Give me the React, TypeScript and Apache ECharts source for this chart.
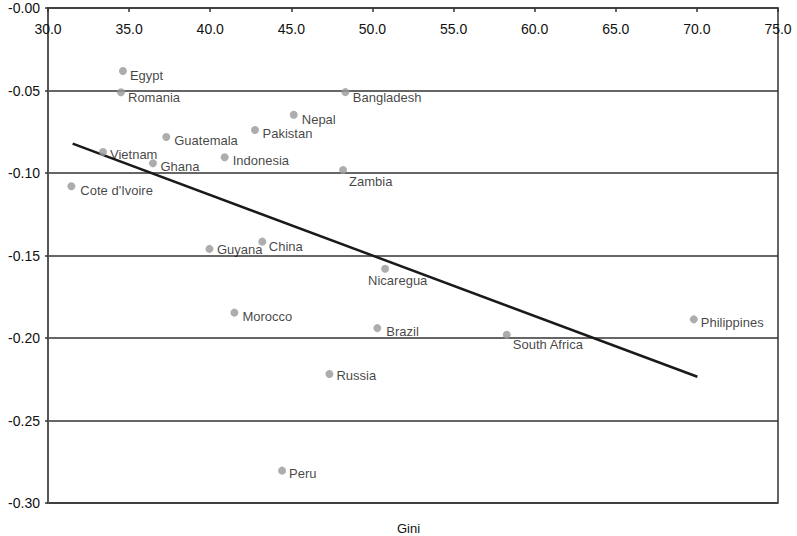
import React, { useEffect, useRef } from "react";
import * as echarts from "echarts";

const countries = [
  "Egypt", "Romania", "Bangladesh", "Nepal", "Pakistan", "Guatemala", "Vietnam",
  "Ghana", "Indonesia", "Zambia", "Cote d'Ivoire", "Guyana", "China", "Nicaregua",
  "Morocco", "Brazil", "Russia", "South Africa", "Philippines", "Peru",
];
const gini = [
  34.62, 34.5, 48.33, 45.15, 42.76, 37.29, 33.39,
  36.47, 40.89, 48.19, 31.44, 39.95, 43.21, 50.78,
  41.49, 50.3, 47.35, 58.28, 69.81, 44.43,
];
const effect = [
  -0.0382, -0.0511, -0.051, -0.0647, -0.0739, -0.0782, -0.0873,
  -0.0941, -0.0905, -0.0982, -0.108, -0.146, -0.1416, -0.158,
  -0.1846, -0.194, -0.2218, -0.198, -0.1887, -0.2804,
];
const trendX = [31.52, 70.03];
const trendY = [-0.0822, -0.2235];
const xAxisTitle = "Gini";

// label offsets (style only): [dx, dy] from point centre to text start / middle
const labelOffsets: Record<string, [number, number]> = {
  Egypt: [7, 4],
  Romania: [7, 5.5],
  Bangladesh: [7.5, 5],
  Nepal: [8, 4.5],
  Pakistan: [7.5, 4],
  Guatemala: [8, 3],
  Vietnam: [7, 2],
  Ghana: [7.5, 3.5],
  Indonesia: [8, 3],
  Zambia: [6, 11],
  "Cote d'Ivoire": [9, 4],
  Guyana: [7.5, 1],
  China: [6.5, 4.5],
  Nicaregua: [-17, 12],
  Morocco: [8, 3.5],
  Brazil: [9, 3],
  Russia: [7, 1.5],
  "South Africa": [6, 10],
  Philippines: [7, 3.5],
  Peru: [7, 3],
};

const FONT = "'Liberation Sans', Arial, sans-serif";

export default function App() {
  const ref = useRef<HTMLDivElement>(null);
  useEffect(() => {
    if (!ref.current) return;
    const chart = echarts.init(ref.current, undefined, { renderer: "svg" });
    const scatterData = countries.map((name, i) => ({
      name,
      value: [gini[i], effect[i]],
      label: {
        show: true,
        position: "inside",
        align: "left",
        verticalAlign: "middle",
        offset: labelOffsets[name] || [7, 3],
        formatter: name,
        color: "#111",
        fontSize: 13,
        fontFamily: FONT,
      },
    }));
    chart.setOption({
      animation: false,
      backgroundColor: "#fff",
      grid: {
        left: 48,
        right: 19,
        top: 8,
        bottom: 33,
        show: true,
        borderColor: "#333",
        borderWidth: 1.5,
        backgroundColor: "transparent",
      },
      xAxis: {
        type: "value",
        position: "top",
        min: 30,
        max: 75,
        interval: 5,
        axisLine: { show: true, lineStyle: { color: "#444", width: 1.5 } },
        axisTick: { show: true, inside: true, length: 4, lineStyle: { color: "#333", width: 1.5 } },
        axisLabel: {
          inside: true,
          margin: 14,
          showMinLabel: true,
          showMaxLabel: true,
          color: "#111",
          fontSize: 14,
          fontFamily: FONT,
          formatter: (v: number) => v.toFixed(1),
        },
        splitLine: { show: false },
      },
      yAxis: {
        type: "value",
        min: -0.3,
        max: 0,
        interval: 0.05,
        axisLine: { show: true, lineStyle: { color: "#555", width: 2 } },
        axisTick: { show: true, length: 3, lineStyle: { color: "#333", width: 1.5 } },
        axisLabel: {
          margin: 8,
          color: "#111",
          fontSize: 14,
          fontFamily: FONT,
          formatter: (v: number) => (Math.abs(v) < 1e-9 ? "-0.00" : v.toFixed(2)),
        },
        splitLine: { show: true, lineStyle: { color: "#333", width: 1.5 } },
      },
      graphic: [
        {
          type: "text",
          left: 397,
          top: 522,
          style: { text: xAxisTitle, fontSize: 13, fontFamily: FONT, fill: "#111" },
        },
      ],
      series: [
        {
          type: "line",
          data: trendX.map((x, i) => [x, trendY[i]]),
          symbol: "none",
          lineStyle: { color: "#1a1a1a", width: 2.5 },
          z: 3,
        },
        {
          type: "scatter",
          data: scatterData,
          symbolSize: 8,
          itemStyle: { color: "#999" },
          z: 4,
        },
      ],
    });
    return () => chart.dispose();
  }, []);
  return (
    <div
      ref={ref}
      style={{ position: "fixed", left: 0, top: 0, width: 797, height: 536 }}
    />
  );
}
